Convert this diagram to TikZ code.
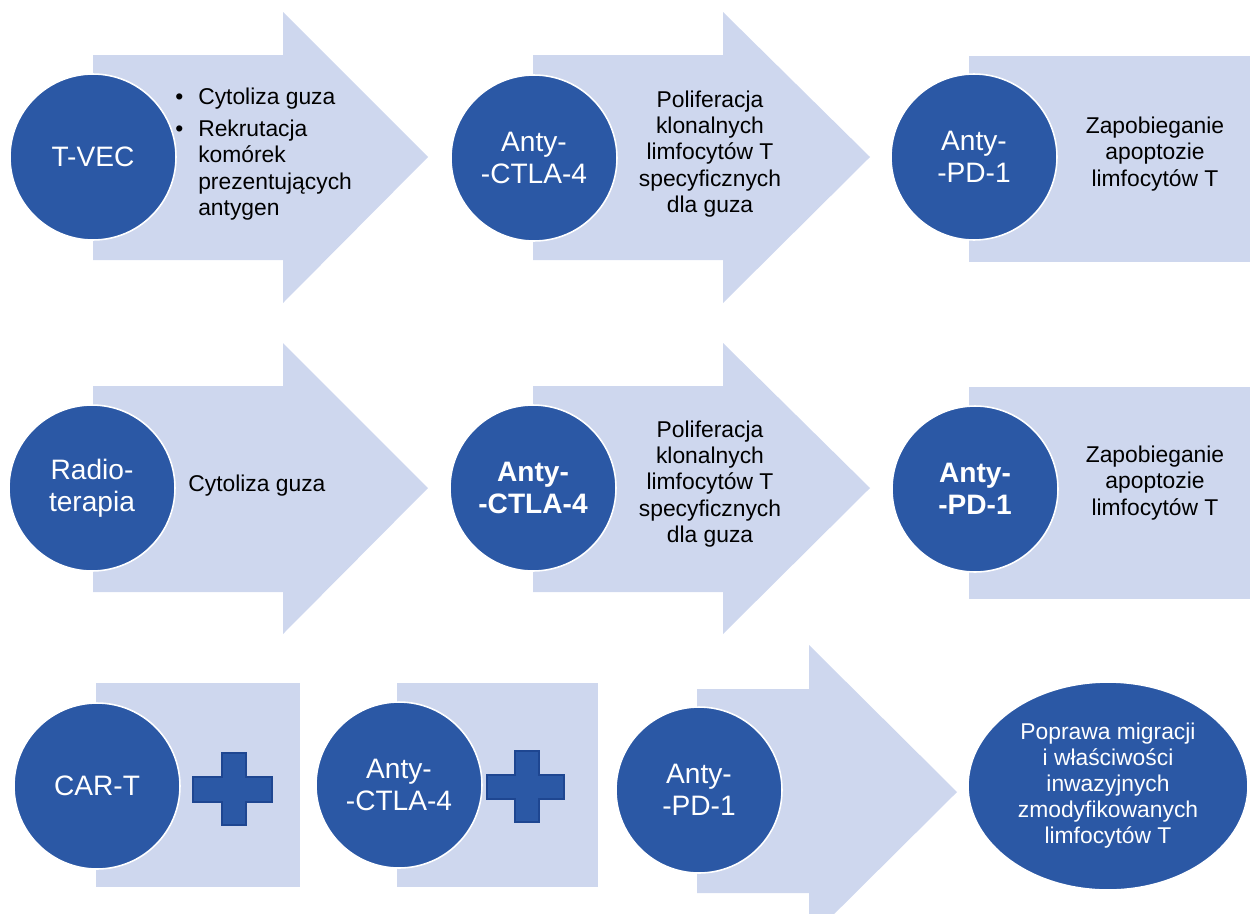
\documentclass[tikz,border=0pt]{standalone}
\usepackage{fontspec}
\setmainfont{Liberation Sans}
\usetikzlibrary{shapes.geometric}
\definecolor{discblue}{RGB}{43,88,165}
\definecolor{arrowblue}{RGB}{206,215,238}
\definecolor{plusedge}{RGB}{30,70,145}
\tikzset{
  disc/.style={circle, fill=discblue, draw=white, line width=0.9pt, minimum size=3.32cm, inner sep=0pt, text=white, align=center, font=\fontsize{16}{18}\selectfont},
  discbold/.style={disc, font=\fontsize{16}{18}\selectfont\bfseries},
  bigoval/.style={ellipse, fill=discblue, draw=white, line width=0.9pt, minimum width=5.6cm, minimum height=4.16cm, inner sep=0pt, text=white, align=center, font=\fontsize{13}{14.8}\selectfont},
  bodytext/.style={align=center, inner sep=0pt, font=\fontsize{13}{15}\selectfont},
  plussign/.style={fill=discblue, draw=plusedge, line width=0.6pt}
}
\begin{document}
\begin{tikzpicture}[x=0.02cm, y=-0.02cm]
	\useasboundingbox (0,0) rectangle (1250,913);
	\clip (0,0) rectangle (1250,913);
	% row 1
	\fill[arrowblue] (93,55) -- (283,55) -- (283,12) -- (428,157) -- (283,303) -- (283,260) -- (93,260) -- cycle;
	\fill[arrowblue] (533,55) -- (723,55) -- (723,12) -- (870,157) -- (723,303) -- (723,260) -- (533,260) -- cycle;
	\fill[arrowblue] (969,56) rectangle (1250,262);
	% row 2
	\fill[arrowblue] (93,386) -- (283,386) -- (283,343) -- (428,488) -- (283,634) -- (283,592) -- (93,592) -- cycle;
	\fill[arrowblue] (533,386) -- (723,386) -- (723,343) -- (870,488) -- (723,634) -- (723,592) -- (533,592) -- cycle;
	\fill[arrowblue] (969,387) rectangle (1250,599);
	% row 3
	\fill[arrowblue] (96,683) rectangle (300,887);
	\fill[arrowblue] (397,683) rectangle (598,887);
	\fill[arrowblue] (697,689) -- (809,689) -- (809,645) -- (957,792) -- (809,939) -- (809,893) -- (697,893) -- cycle;
	\draw[plussign] (193,777) -- ++(29,0) -- ++(0,-24) -- ++(24,0) -- ++(0,24) -- ++(26,0) -- ++(0,25) -- ++(-26,0) -- ++(0,23) -- ++(-24,0) -- ++(0,-23) -- ++(-29,0) -- cycle;
	\draw[plussign] (487,775) -- ++(28,0) -- ++(0,-24) -- ++(24,0) -- ++(0,24) -- ++(25,0) -- ++(0,24) -- ++(-25,0) -- ++(0,23) -- ++(-24,0) -- ++(0,-23) -- ++(-28,0) -- cycle;

	\node[disc] (tvec) at (93,157) {T-VEC};
	\node[disc] (ctlaA) at (534,158) {Anty-\\-CTLA-4};
	\node[disc] (pdA) at (974,157) {Anty-\\-PD-1};
	\node[disc] (radio) at (92,488) {Radio-\\terapia};
	\node[discbold] (ctlaB) at (533,488) {Anty-\\-CTLA-4};
	\node[discbold] (pdB) at (975,489) {Anty-\\-PD-1};
	\node[disc] (cart) at (97,786) {CAR-T};
	\node[disc] (ctlaC) at (399,785) {Anty-\\-CTLA-4};
	\node[disc] (pdC) at (699,790) {Anty-\\-PD-1};
	\node[bigoval] (effect) at (1108,786) {Poprawa migracji\\i właściwości\\inwazyjnych\\zmodyfikowanych\\limfocytów T};

	\node[bodytext, anchor=west] (tveclist) at (175,155) {\begin{tabular}{@{}l@{\hspace{8.5pt}}l@{}}\textbullet & Cytoliza guza\\[3pt] \textbullet & Rekrutacja\\ & komórek\\ & prezentujących\\ & antygen\end{tabular}};
	\node[bodytext] (ctlaAtext) at (710,154) {Poliferacja\\klonalnych\\limfocytów T\\specyficznych\\dla guza};
	\node[bodytext] (pdAtext) at (1155,154) {Zapobieganie\\apoptozie\\limfocytów T};
	\node[bodytext, anchor=west] (radiotext) at (188,486) {Cytoliza guza};
	\node[bodytext] (ctlaBtext) at (710,484) {Poliferacja\\klonalnych\\limfocytów T\\specyficznych\\dla guza};
	\node[bodytext] (pdBtext) at (1155,483) {Zapobieganie\\apoptozie\\limfocytów T};
\end{tikzpicture}
\end{document}
